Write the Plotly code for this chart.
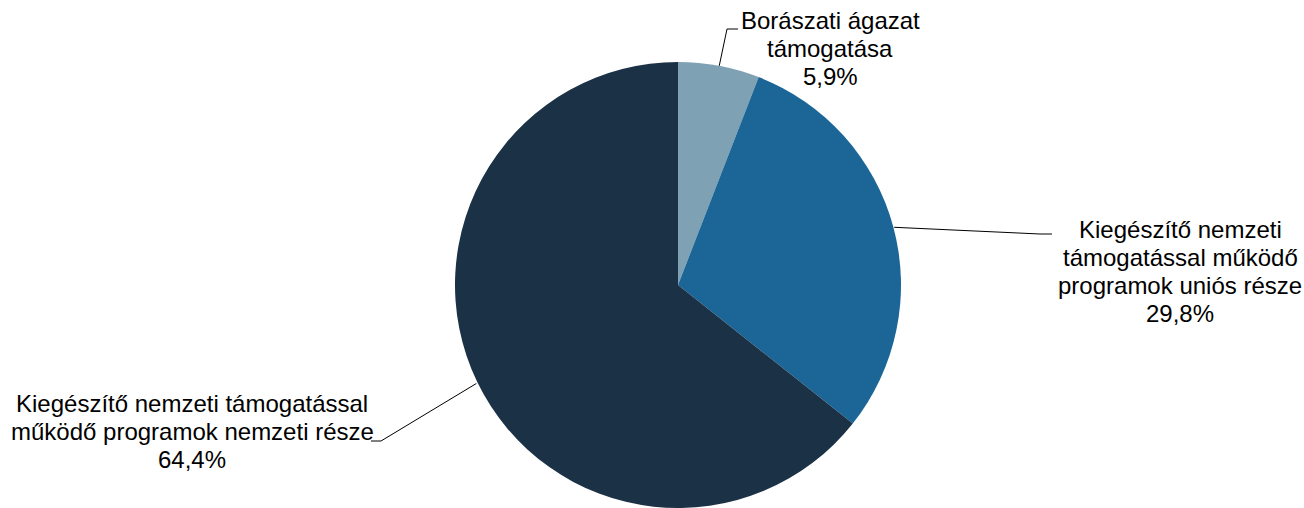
import math
import plotly.graph_objects as go

# ---- data ----
categories = [
    "Borászati ágazat támogatása",
    "Kiegészítő nemzeti támogatással működő programok uniós része",
    "Kiegészítő nemzeti támogatással működő programok nemzeti része",
]
values = [5.9, 29.8, 64.4]
label_lines = [
    ["Borászati ágazat", "támogatása"],
    ["Kiegészítő nemzeti", "támogatással működő", "programok uniós része"],
    ["Kiegészítő nemzeti támogatással", "működő programok nemzeti része"],
]
value_labels = ["5,9%", "29,8%", "64,4%"]
colors = ["#7fa1b4", "#1c6697", "#1b3146"]

# ---- layout constants (pixels) ----
W, H = 1304, 508
CX, CY, R = 678, 286, 224
FONT = 24
LINE_H = 27.8
# label block: (center x, baseline of first line)
label_pos = [(830, 29), (1180, 238), (192, 412)]
# leader line elbow and end (x, y)
leader = [
    [(727, 29), (738, 29)],
    [(1040, 234), (1052, 234)],
    [(381, 441), (371, 441)],
]

def px(x):
    return x / W

def py(y):
    return 1 - y / H

fig = go.Figure(
    go.Pie(
        labels=categories,
        values=values,
        sort=False,
        direction="clockwise",
        rotation=0,
        marker=dict(colors=colors, line=dict(width=0)),
        textinfo="none",
        hoverinfo="label+percent",
        domain=dict(x=[(CX - R) / W, (CX + R) / W],
                    y=[max(0, (H - CY - R) / H), min(1, (H - CY + R) / H)]),
        showlegend=False,
    )
)

total = sum(values)
annotations = []
shapes = []
cum = 0
for i, v in enumerate(values):
    mid = (cum + v / 2) / total * 2 * math.pi
    cum += v
    sx = CX + R * math.sin(mid)
    sy = CY - R * math.cos(mid)
    pts = [(sx, sy)] + leader[i]
    for (x0, y0), (x1, y1) in zip(pts[:-1], pts[1:]):
        shapes.append(dict(type="line", xref="paper", yref="paper",
                           x0=px(x0), y0=py(y0), x1=px(x1), y1=py(y1),
                           line=dict(color="black", width=1)))
    lines = label_lines[i] + [value_labels[i]]
    lx, ly = label_pos[i]
    for j, t in enumerate(lines):
        base = ly + j * LINE_H
        annotations.append(dict(
            text=t, xref="paper", yref="paper",
            x=px(lx), y=py(base - FONT * 0.34),
            xanchor="center", yanchor="middle", showarrow=False,
            font=dict(family="Arial, Liberation Sans, sans-serif", size=FONT, color="black"),
        ))

fig.update_layout(
    width=W, height=H,
    margin=dict(l=0, r=0, t=0, b=0),
    paper_bgcolor="white", plot_bgcolor="white",
    annotations=annotations, shapes=shapes,
)

fig.write_html(
    "out.html",
    config={"displayModeBar": False},
    post_script="document.body.style.margin='0';document.body.style.overflow='hidden';",
)
